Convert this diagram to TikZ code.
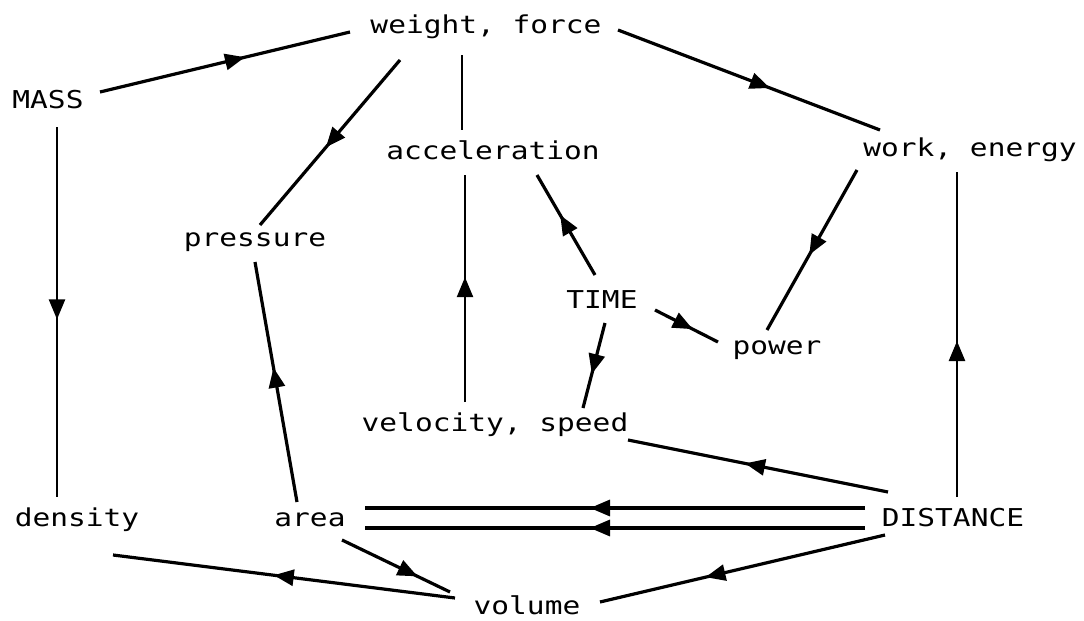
\documentclass[tikz,border=0pt]{standalone}
\usepackage{fontspec}
\newfontfamily\plotfont[FakeStretch=1.2]{DejaVu Sans Mono}
\usetikzlibrary{arrows.meta,decorations.markings}

\begin{document}
\begin{tikzpicture}[
  x=0.5pt, y=-0.5pt,
  term/.style={inner sep=0pt, font=\plotfont\fontsize{12.3}{14}\selectfont},
  link/.style={line width=1.6pt},
  thin link/.style={line width=1.2pt},
  flow/.style={postaction={decorate, decoration={markings,
    mark=at position #1 with {\arrow{Triangle[length=10pt,width=8pt]}}}}},
  flow/.default=0.5,
]
\useasboundingbox (0,0) rectangle (1084,621);

% === QUANTITIES ===
\node[term] (mass)     at (48,100)  {MASS};
\node[term] (weight)   at (486,27)  {weight, force};
\node[term] (accel)    at (493,150) {acceleration};
\node[term] (work)     at (970,150) {work, energy};
\node[term] (pressure) at (255,242) {pressure};
\node[term] (time)     at (602,300) {TIME};
\node[term] (power)    at (777,350) {power};
\node[term] (velocity) at (495,425) {velocity, speed};
\node[term] (density)  at (77,520)  {density};
\node[term] (area)     at (310,520) {area};
\node[term] (distance) at (953,518) {DISTANCE};
\node[term] (volume)   at (527,605) {volume};

% === RELATIONS ===
\draw[link, flow=0.58] ([shift={(52,-8)}]mass.center) -- ([shift={(-136,5)}]weight.center);
\draw[link, flow=0.58] ([shift={(132,3)}]weight.center) -- ([shift={(-90,-20)}]work.center);
\draw[link, flow=0.53] ([shift={(-86,33)}]weight.center) -- ([shift={(5,-17)}]pressure.center);
\draw[thin link] ([shift={(-24,28)}]weight.center) -- ([shift={(-31,-20)}]accel.center);
\draw[thin link, flow=0.55] ([shift={(-30,-23)}]velocity.center) -- ([shift={(-28,25)}]accel.center);
\draw[link, flow=0.6] ([shift={(-7,-25)}]time.center) -- ([shift={(44,25)}]accel.center);
\draw[link, flow=0.6] ([shift={(3,23)}]time.center) -- ([shift={(88,-17)}]velocity.center);
\draw[link, flow=0.6] ([shift={(53,10)}]time.center) -- ([shift={(-59,-8)}]power.center);
\draw[link, flow=0.53] ([shift={(-113,20)}]work.center) -- ([shift={(-10,-20)}]power.center);
\draw[thin link, flow=0.48] ([shift={(4,-21)}]distance.center) -- ([shift={(-13,22)}]work.center);
\draw[link, flow=0.55] ([shift={(-65,-26)}]distance.center) -- ([shift={(133,15)}]velocity.center);
\draw[link, flow=0.55] ([shift={(-88,-10)}]distance.center) -- ([shift={(55,-12)}]area.center);
\draw[link, flow=0.55] ([shift={(-88,10)}]distance.center) -- ([shift={(55,8)}]area.center);
\draw[link, flow=0.56] ([shift={(-13,-18)}]area.center) -- ([shift={(0,20)}]pressure.center);
\draw[thin link, flow=0.52] ([shift={(9,27)}]mass.center) -- ([shift={(-20,-23)}]density.center);
\draw[link, flow=0.53] ([shift={(-72,-7)}]volume.center) -- ([shift={(36,35)}]density.center);
\draw[link, flow=0.7] ([shift={(32,20)}]area.center) -- ([shift={(-77,-13)}]volume.center);
\draw[link, flow=0.63] ([shift={(-68,17)}]distance.center) -- ([shift={(73,-3)}]volume.center);
\end{tikzpicture}
\end{document}
